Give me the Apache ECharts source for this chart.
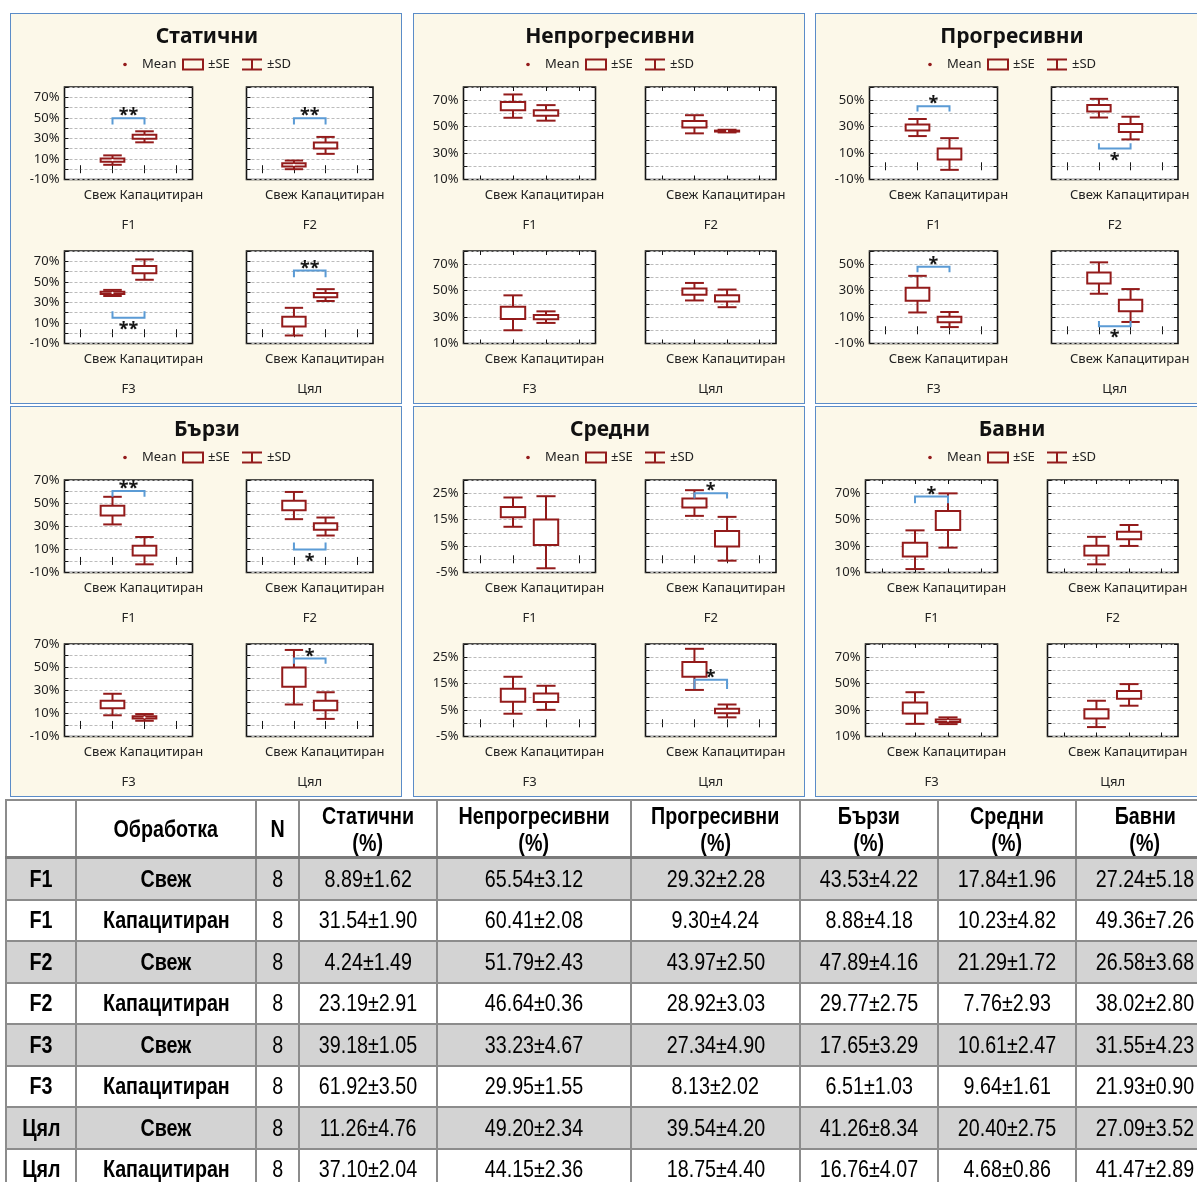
<!DOCTYPE html>
<html>
<head>
<meta charset="utf-8">
<script src="https://cdn.jsdelivr.net/npm/echarts@6/dist/echarts.min.js"></script>
<style>
  html, body { margin: 0; padding: 0; background: #fff; width: 1197px; height: 1182px; overflow: hidden; position: relative; }
  .panel { position: absolute; background: #fcf8e9; border: 1.5px solid #5b8cc8; box-sizing: border-box; }
  #chart { position: absolute; left: 0; top: 0; width: 1197px; height: 800px; }
  #tbl { position: absolute; left: 5px; top: 799px; width: 1208px; border-collapse: collapse; table-layout: fixed;
         font-family: 'Liberation Sans', Arial, sans-serif; color: #000; }
  #tbl td, #tbl th { border: 2px solid #8c8c8c; text-align: center; padding: 0; overflow: hidden; white-space: nowrap; }
  #tbl th { font-weight: bold; font-size: 24px; line-height: 27px; height: 55px; border-bottom: 3px solid #7a7a7a; }
  #tbl td { font-size: 24px; height: 39.5px; }
  #tbl td.b { font-weight: bold; }
  #tbl tr.shade td { background: #d3d3d3; }
  /* condensed look for the table lettering */
  #tbl .nar { display: inline-block; transform: scaleX(0.82); transform-origin: 50% 50%; }
</style>
</head>
<body>
<div id="panels"></div>
<div id="chart"></div>
<table id="tbl"></table>
<script>
// Sperm motility classes, groups and treatments
const classNames = ['Статични', 'Непрогресивни', 'Прогресивни', 'Бързи', 'Средни', 'Бавни'];
const groups = ['F1', 'F2', 'F3', 'Цял'];
const treatments = ['Свеж', 'Капацитиран'];
const sampleSize = [8, 8, 8, 8, 8, 8, 8, 8];

// Row order: F1 Свеж, F1 Капацитиран, F2 Свеж, F2 Капацитиран, F3 Свеж, F3 Капацитиран, Цял Свеж, Цял Капацитиран
const staticMean = [8.89, 31.54, 4.24, 23.19, 39.18, 61.92, 11.26, 37.10];
const staticSE   = [1.62, 1.90, 1.49, 2.91, 1.05, 3.50, 4.76, 2.04];
const staticSD   = [4.58, 5.37, 4.21, 8.23, 2.97, 9.90, 13.46, 5.77];

const nonProgMean = [65.54, 60.41, 51.79, 46.64, 33.23, 29.95, 49.20, 44.15];
const nonProgSE   = [3.12, 2.08, 2.43, 0.36, 4.67, 1.55, 2.34, 2.36];
const nonProgSD   = [8.82, 5.88, 6.87, 1.02, 13.21, 4.38, 6.62, 6.68];

const progMean = [29.32, 9.30, 43.97, 28.92, 27.34, 8.13, 39.54, 18.75];
const progSE   = [2.28, 4.24, 2.50, 3.03, 4.90, 2.02, 4.20, 4.40];
const progSD   = [6.45, 11.99, 7.07, 8.57, 13.86, 5.71, 11.88, 12.45];

const fastMean = [43.53, 8.88, 47.89, 29.77, 17.65, 6.51, 41.26, 16.76];
const fastSE   = [4.22, 4.18, 4.16, 2.75, 3.29, 1.03, 8.34, 4.07];
const fastSD   = [11.94, 11.82, 11.77, 7.78, 9.31, 2.91, 23.59, 11.51];

const mediumMean = [17.84, 10.23, 21.29, 7.76, 10.61, 9.64, 20.40, 4.68];
const mediumSE   = [1.96, 4.82, 1.72, 2.93, 2.47, 1.61, 2.75, 0.86];
const mediumSD   = [5.54, 13.63, 4.86, 8.29, 6.99, 4.55, 7.78, 2.43];

const slowMean = [27.24, 49.36, 26.58, 38.02, 31.55, 21.93, 27.09, 41.47];
const slowSE   = [5.18, 7.26, 3.68, 2.80, 4.23, 0.90, 3.52, 2.89];
const slowSD   = [14.65, 20.53, 10.41, 7.92, 11.96, 2.55, 9.96, 8.17];

// Y-axis ranges per motility class (percent)
const axisMin  = [-10, 10, -10, -10, -5, 10];
const axisMax  = [80, 80, 60, 70, 30, 80];
const axisStep = [10, 10, 10, 10, 5, 10];

// Significance brackets: class, group, bracket level, end-tip level, mark
const sigClass = [0, 0, 0, 0, 2, 2, 2, 2, 3, 3, 3, 4, 4, 5];
const sigGroup = [0, 1, 2, 3, 0, 1, 2, 3, 0, 1, 3, 1, 3, 0];
const sigLevel = [49.5, 49.5, 15, 61, 45.5, 13.5, 48, 3, 60.5, 10, 57.5, 25, 16.5, 67.5];
const sigTip   = [43.5, 43.5, 21.5, 54.5, 41.5, 17.5, 44, 7, 55.5, 16, 53, 23, 13, 62.5];
const sigMark  = ['**', '**', '**', '**', '*', '*', '*', '*', '**', '*', '*', '*', '*', '*'];

const classMeans = [staticMean, nonProgMean, progMean, fastMean, mediumMean, slowMean];
const classSE = [staticSE, nonProgSE, progSE, fastSE, mediumSE, slowSE];
const classSD = [staticSD, nonProgSD, progSD, fastSD, mediumSD, slowSD];

// ---------- layout ----------
const FONT = "'Noto Sans', 'DejaVu Sans', sans-serif";
const BOX_RED = '#931b1b';
const BRACKET_BLUE = '#5b9bd5';
const panelX = [10, 413, 815];
const panelY = [12, 405];

const panelsEl = document.getElementById('panels');
for (let p = 0; p < 6; p++) {
  const d = document.createElement('div');
  d.className = 'panel';
  d.style.left = panelX[p % 3] + 'px';
  d.style.top = (panelY[Math.floor(p / 3)] + 0.5) + 'px';
  d.style.width = '392px';
  d.style.height = '391px';
  panelsEl.appendChild(d);
}

function renderBox(params, api) {
  const x = api.value(0), m = api.value(1), se = api.value(2), sd = api.value(3);
  const c = api.coord([x, m]);
  const band = api.size([1, 0])[0];
  const y1 = api.coord([x, m + se])[1], y2 = api.coord([x, m - se])[1];
  const w1 = api.coord([x, m + sd])[1], w2 = api.coord([x, m - sd])[1];
  const bw = band * 0.74, cw = band * 0.58;
  const st = { stroke: BOX_RED, lineWidth: 2 };
  return {
    type: 'group',
    children: [
      { type: 'line', shape: { x1: c[0], y1: w1, x2: c[0], y2: y1 }, style: st },
      { type: 'line', shape: { x1: c[0], y1: y2, x2: c[0], y2: w2 }, style: st },
      { type: 'line', shape: { x1: c[0] - cw / 2, y1: w1, x2: c[0] + cw / 2, y2: w1 }, style: st },
      { type: 'line', shape: { x1: c[0] - cw / 2, y1: w2, x2: c[0] + cw / 2, y2: w2 }, style: st },
      { type: 'rect', shape: { x: c[0] - bw / 2, y: y1, width: bw, height: y2 - y1 },
        style: { fill: '#fff', stroke: BOX_RED, lineWidth: 2 } },
      { type: 'circle', shape: { cx: c[0], cy: c[1], r: 1.1 }, style: { fill: '#fff' } }
    ]
  };
}

function makeBracketRenderer(marks) {
  return function (params, api) {
    const level = api.value(1), tip = api.value(2);
    const a = api.coord([1, level]), b = api.coord([2, level]);
    const ty = api.coord([1, tip])[1];
    const above = tip < level;
    return {
      type: 'group',
      children: [
        { type: 'polyline', shape: { points: [[a[0], ty], [a[0], a[1]], [b[0], b[1]], [b[0], ty]] },
          style: { stroke: BRACKET_BLUE, lineWidth: 2, fill: null } },
        { type: 'text', x: (a[0] + b[0]) / 2, y: above ? a[1] - 2 : a[1] + 12,
          style: { text: marks[params.dataIndex], align: 'center', verticalAlign: 'middle',
                   font: 'bold 18px ' + FONT, fill: '#151515' } }
      ]
    };
  };
}

const grids = [], xAxes = [], yAxes = [], series = [], graphics = [];

for (let p = 0; p < 6; p++) {
  const px = panelX[p % 3], py = panelY[Math.floor(p / 3)];
  const mn = axisMin[p], mx = axisMax[p], st = axisStep[p];
  const L = mn <= -10 ? 54.5 : 50.5;

  // panel title
  graphics.push({ type: 'text', x: px + 197, y: py + 25, z: 100,
    style: { text: classNames[p], align: 'center', verticalAlign: 'middle', font: 'bold 21px ' + FONT, fill: '#111' } });

  // legend
  const ly = py + 52.5;
  graphics.push(
    { type: 'circle', z: 100, shape: { cx: px + 115, cy: ly, r: 1.8 }, style: { fill: BOX_RED } },
    { type: 'text', z: 100, x: px + 132, y: ly, style: { text: 'Mean', verticalAlign: 'middle', font: '13px ' + FONT, fill: '#222' } },
    { type: 'rect', z: 100, shape: { x: px + 173, y: ly - 5, width: 20, height: 10 }, style: { fill: 'none', stroke: BOX_RED, lineWidth: 2 } },
    { type: 'text', z: 100, x: px + 198, y: ly, style: { text: '±SE', verticalAlign: 'middle', font: '13px ' + FONT, fill: '#222' } },
    { type: 'line', z: 100, shape: { x1: px + 232, y1: ly - 5, x2: px + 252, y2: ly - 5 }, style: { stroke: BOX_RED, lineWidth: 2 } },
    { type: 'line', z: 100, shape: { x1: px + 232, y1: ly + 5, x2: px + 252, y2: ly + 5 }, style: { stroke: BOX_RED, lineWidth: 2 } },
    { type: 'line', z: 100, shape: { x1: px + 242, y1: ly - 5, x2: px + 242, y2: ly + 5 }, style: { stroke: BOX_RED, lineWidth: 2 } },
    { type: 'text', z: 100, x: px + 257, y: ly, style: { text: '±SD', verticalAlign: 'middle', font: '13px ' + FONT, fill: '#222' } }
  );

  for (let s = 0; s < 4; s++) {
    const col = s % 2, row = Math.floor(s / 2);
    const k = p * 4 + s;
    const left = col === 0 ? px + L : px + L + 182;
    const width = col === 0 ? 182.5 - L : 363 - L - 182;
    const top = py + (row === 0 ? 75 : 239);
    const height = 92.5;

    grids.push({ left, top, width, height, show: true, backgroundColor: '#fff',
                 borderColor: '#141414', borderWidth: 1.6, containLabel: false, outerBoundsMode: 'none' });

    const cats = ['', treatments[0], treatments[1], ' '];
    const xBase = {
      type: 'category', gridIndex: k, data: cats, boundaryGap: true,
      axisLine: { show: false },
      axisTick: { show: true, inside: true, alignWithLabel: true, interval: 0, length: 4, lineStyle: { color: '#141414', width: 1 } },
      axisLabel: { show: false, interval: 0 },
      splitLine: { show: false }
    };
    xAxes.push(Object.assign({}, xBase, {
      position: 'bottom',
      name: treatments.join(' '), nameLocation: 'middle', nameGap: 9,
      nameTextStyle: { fontFamily: FONT, fontSize: 13, color: '#222', padding: [0, 0, 0, 30], verticalAlign: 'top' }
    }));
    xAxes.push(Object.assign({}, xBase, { position: 'top' }));

    const yBase = {
      type: 'value', gridIndex: k, min: mn, max: mx, interval: st,
      axisLine: { show: false },
      axisTick: { show: true, inside: true, length: 4, lineStyle: { color: '#141414', width: 1 } }
    };
    yAxes.push(Object.assign({}, yBase, {
      position: 'left',
      axisLabel: {
        show: col === 0, margin: 5, fontFamily: FONT, fontSize: 13, color: '#1e1e1e',
        showMinLabel: true, showMaxLabel: true,
        formatter: v => (Math.round((v - mn) / st) % 2 === 0 ? v + '%' : '')
      },
      splitLine: { show: true, lineStyle: { color: '#bcbcbc', width: 1, type: [3, 2] } }
    }));
    yAxes.push(Object.assign({}, yBase, { position: 'right', axisLabel: { show: false }, splitLine: { show: false } }));

    // group caption under the sub-chart
    graphics.push({ type: 'text', z: 100, x: left + width / 2, y: top + height + 45.5,
      style: { text: groups[s], align: 'center', verticalAlign: 'middle', font: '13px ' + FONT, fill: '#222' } });

    // mean ±SE boxes with ±SD whiskers
    const boxData = [0, 1].map(t => {
      const i = s * 2 + t;
      return [t + 1, classMeans[p][i], classSE[p][i], classSD[p][i]];
    });
    series.push({ type: 'custom', name: classNames[p] + ' ' + groups[s], xAxisIndex: 2 * k, yAxisIndex: 2 * k,
                  data: boxData, renderItem: renderBox, z: 3, silent: true });

    // significance bracket
    const bData = [], bMarks = [];
    for (let j = 0; j < sigClass.length; j++) {
      if (sigClass[j] === p && sigGroup[j] === s) {
        bData.push([1, sigLevel[j], sigTip[j]]);
        bMarks.push(sigMark[j]);
      }
    }
    if (bData.length) {
      series.push({ type: 'custom', xAxisIndex: 2 * k, yAxisIndex: 2 * k, data: bData,
                    renderItem: makeBracketRenderer(bMarks), z: 4, silent: true });
    }
  }
}

const chart = echarts.init(document.getElementById('chart'), null, { renderer: 'canvas' });
chart.setOption({
  backgroundColor: 'transparent',
  animation: false,
  grid: grids,
  xAxis: xAxes,
  yAxis: yAxes,
  series: series,
  graphic: graphics
});

// ---------- summary table (mean ± SE) ----------
const colWidths = [70, 180, 43, 138, 194, 169, 138, 138, 138];
const tbl = document.getElementById('tbl');
const cg = document.createElement('colgroup');
colWidths.forEach(w => { const c = document.createElement('col'); c.style.width = w + 'px'; cg.appendChild(c); });
tbl.appendChild(cg);

function narrow(text) {
  const sp = document.createElement('span');
  sp.className = 'nar';
  sp.textContent = text;
  return sp;
}

const thead = document.createElement('tr');
['', 'Обработка', 'N'].concat(classNames.map(n => n + '\n(%)')).forEach(h => {
  const th = document.createElement('th');
  h.split('\n').forEach((line, li) => {
    if (li) th.appendChild(document.createElement('br'));
    th.appendChild(narrow(line));
  });
  thead.appendChild(th);
});
tbl.appendChild(thead);

groups.forEach((g, gi) => {
  treatments.forEach((t, ti) => {
    const i = gi * 2 + ti;
    const tr = document.createElement('tr');
    if (ti === 0) tr.className = 'shade';
    const cells = [[g, 'b'], [t, 'b'], [String(sampleSize[i]), '']];
    for (let p = 0; p < 6; p++) {
      cells.push([classMeans[p][i].toFixed(2) + '±' + classSE[p][i].toFixed(2), '']);
    }
    cells.forEach(([txt, cls]) => {
      const td = document.createElement('td');
      td.appendChild(narrow(txt));
      if (cls) td.className = cls;
      tr.appendChild(td);
    });
    tbl.appendChild(tr);
  });
});
</script>
</body>
</html>
